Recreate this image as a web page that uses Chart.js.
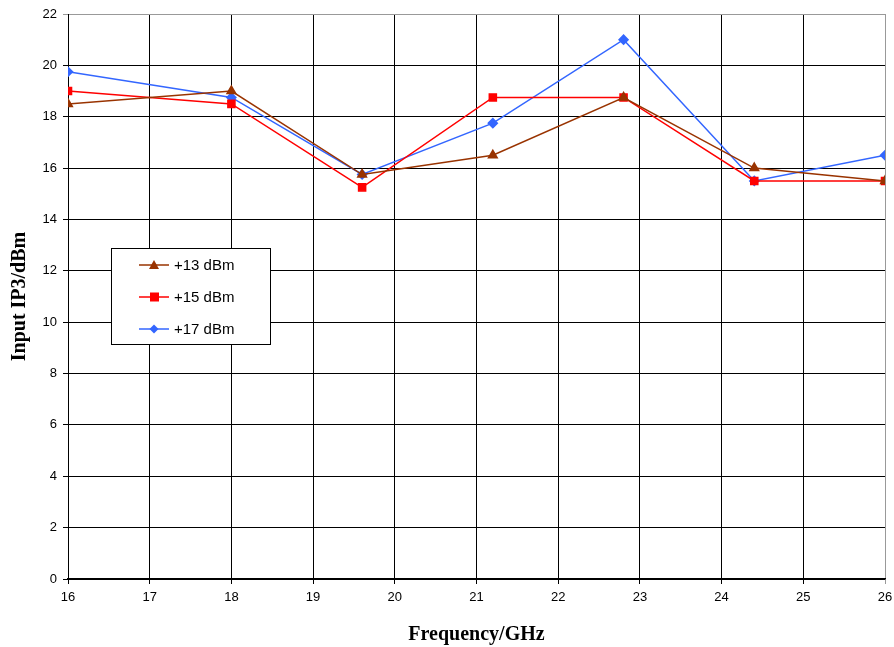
<!DOCTYPE html>
<html>
<head>
<meta charset="utf-8">
<script src="https://cdn.jsdelivr.net/npm/chart.js@4/dist/chart.umd.min.js"></script>
<style>
  html, body { margin: 0; padding: 0; background: #fff; }
  #wrap { width: 894px; height: 647px; }
</style>
</head>
<body>
<div id="wrap"><canvas id="ip3"></canvas></div>
<script>
const freqs = [16, 18, 19.6, 21.2, 22.8, 24.4, 26];
const ip3At13 = [18.5, 19.0, 15.75, 16.5, 18.75, 16.0, 15.5];
const ip3At15 = [19.0, 18.5, 15.25, 18.75, 18.75, 15.5, 15.5];
const ip3At17 = [19.75, 18.75, 15.75, 17.75, 21.0, 15.5, 16.5];
const seriesNames = ['+13 dBm', '+15 dBm', '+17 dBm'];

const toPoints = vals => vals.map((v, i) => ({ x: freqs[i], y: v }));

// legend box drawn inside the plot, like the original
const innerLegend = {
  id: 'innerLegend',
  afterDraw(chart) {
    const c = chart.ctx;
    const x0 = 111, y0 = 248, w = 159, h = 96;
    c.save();
    c.fillStyle = '#fff';
    c.fillRect(x0, y0, w, h);
    c.strokeStyle = '#000';
    c.lineWidth = 1;
    c.strokeRect(x0 + 0.5, y0 + 0.5, w, h);
    c.font = '15px "Liberation Sans", Arial, sans-serif';
    c.textBaseline = 'middle';
    chart.data.datasets.forEach((ds, i) => {
      const cy = y0 + 17 + i * 32;
      c.strokeStyle = ds.borderColor;
      c.lineWidth = 1.5;
      c.beginPath();
      c.moveTo(x0 + 28, cy);
      c.lineTo(x0 + 58, cy);
      c.stroke();
      c.fillStyle = ds.pointBackgroundColor;
      c.beginPath();
      if (ds.pointStyle === 'triangle') {
        c.moveTo(x0 + 43, cy - 5); c.lineTo(x0 + 48, cy + 4); c.lineTo(x0 + 38, cy + 4);
      } else if (ds.pointStyle === 'rect') {
        c.rect(x0 + 39, cy - 4.5, 9, 9);
      } else {
        c.moveTo(x0 + 43, cy - 4.5); c.lineTo(x0 + 47.5, cy); c.lineTo(x0 + 43, cy + 4.5); c.lineTo(x0 + 38.5, cy);
      }
      c.closePath();
      c.fill();
      c.fillStyle = '#000';
      c.fillText(ds.label, x0 + 63, cy + 1);
    });
    c.restore();
  }
};

new Chart(document.getElementById('ip3').getContext('2d'), {
  type: 'line',
  data: {
    datasets: [
      {
        label: seriesNames[0],
        data: toPoints(ip3At13),
        borderColor: '#993300',
        pointBackgroundColor: '#993300',
        pointBorderColor: '#993300',
        pointStyle: 'triangle',
        pointRadius: 5,
        borderWidth: 1.5,
        tension: 0
      },
      {
        label: seriesNames[1],
        data: toPoints(ip3At15),
        borderColor: '#ff0000',
        pointBackgroundColor: '#ff0000',
        pointBorderColor: '#ff0000',
        pointStyle: 'rect',
        pointRadius: 5,
        borderWidth: 1.5,
        tension: 0
      },
      {
        label: seriesNames[2],
        data: toPoints(ip3At17),
        borderColor: '#3366ff',
        pointBackgroundColor: '#3366ff',
        pointBorderColor: '#3366ff',
        pointStyle: 'rectRot',
        pointRadius: 4.5,
        borderWidth: 1.5,
        tension: 0
      }
    ]
  },
  options: {
    responsive: true,
    maintainAspectRatio: false,
    animation: false,
    layout: { padding: { top: 14, right: 9, left: 0, bottom: 0 } },
    plugins: {
      legend: { display: false },
      tooltip: { enabled: false }
    },
    scales: {
      x: {
        type: 'linear',
        min: 16,
        max: 26,
        ticks: {
          stepSize: 1,
          color: '#000',
          padding: 6,
          font: { family: '"Liberation Sans", Arial, sans-serif', size: 13 }
        },
        grid: {
          color: ctx => (ctx.tick && ctx.tick.value === 26) ? '#999' : '#000',
          lineWidth: 1,
          tickLength: 5,
          drawTicks: true
        },
        border: { color: '#000', width: 1.5 },
        title: {
          display: true,
          text: 'Frequency/GHz',
          color: '#000',
          padding: { top: 18, bottom: 0 },
          font: { family: '"Liberation Serif", "Times New Roman", serif', size: 20, weight: 'bold' }
        },
        afterFit: s => { s.height = 68; s.paddingRight = 0; }
      },
      y: {
        min: 0,
        max: 22,
        ticks: {
          stepSize: 2,
          color: '#000',
          padding: 6,
          font: { family: '"Liberation Sans", Arial, sans-serif', size: 13 }
        },
        grid: {
          color: ctx => (ctx.tick && ctx.tick.value === 22) ? '#999' : '#000',
          lineWidth: 1,
          tickLength: 5
        },
        border: { color: '#000', width: 1 },
        title: {
          display: true,
          text: 'Input IP3/dBm',
          color: '#000',
          padding: { top: 8, bottom: 6 },
          font: { family: '"Liberation Serif", "Times New Roman", serif', size: 20, weight: 'bold' }
        },
        afterFit: s => { s.width = 68; }
      }
    }
  },
  plugins: [innerLegend]
});
</script>
</body>
</html>
